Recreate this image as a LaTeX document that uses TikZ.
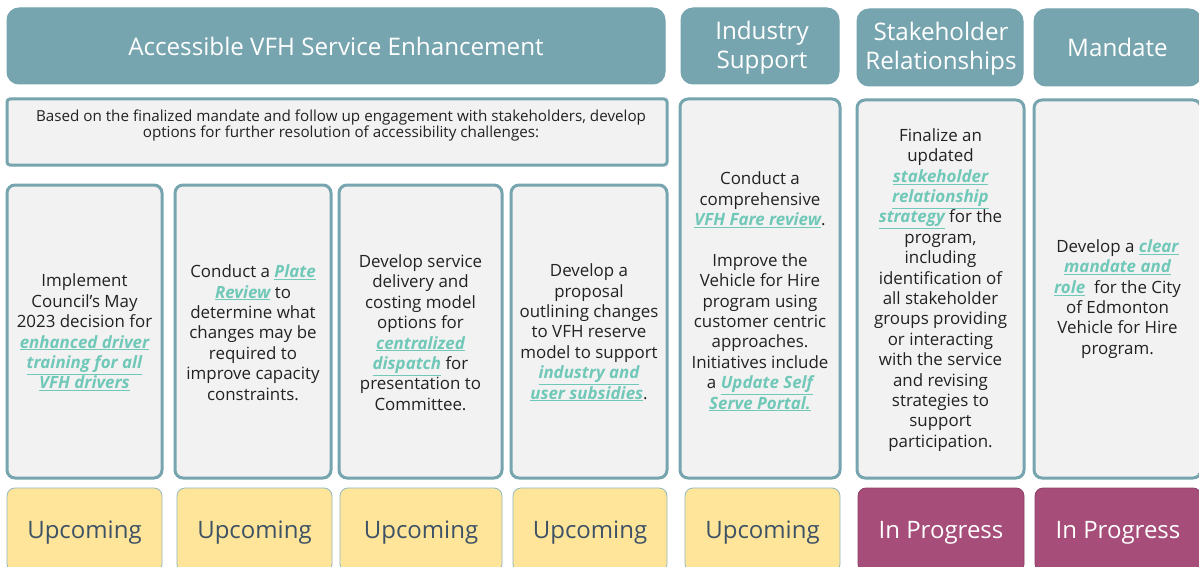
\documentclass[tikz,border=0pt]{standalone}
\usepackage{fontspec}
\setmainfont{Open Sans}
\definecolor{teal}{HTML}{76A5AF}
\definecolor{boxfill}{HTML}{F2F2F2}
\definecolor{linkc}{HTML}{70C8B8}
\definecolor{txt}{HTML}{222222}
\definecolor{upfill}{HTML}{FFE599}
\definecolor{uptxt}{HTML}{3E5266}
\definecolor{ipfill}{HTML}{A64D79}
\newcommand\lk[1]{{\color{linkc}\bfseries\itshape\underline{#1}}}
\tikzset{
  hdr/.style={draw=teal, line width=1pt, fill=teal, rounded corners=12pt, text=white,
    font=\fontsize{24.2}{29}\selectfont, align=center, inner sep=0pt},
  colbox/.style={draw=teal, line width=3pt, fill=boxfill, rounded corners=8pt, inner sep=0pt},
  desc/.style={draw=teal, line width=3pt, fill=boxfill, rounded corners=3pt, inner sep=0pt},
  body/.style={text=txt, font=\fontsize{16.9}{20.4}\selectfont, align=center, inner sep=0pt},
  small/.style={text=txt, font=\fontsize{15.2}{16.2}\selectfont, align=center, inner sep=0pt},
  upc/.style={draw=teal!80, line width=0.8pt, fill=upfill, rounded corners=8pt, text=uptxt,
    font=\fontsize{24}{28}\selectfont, inner sep=0pt},
  inp/.style={draw=ipfill!85!black, line width=0.8pt, fill=ipfill, rounded corners=8pt, text=white,
    font=\fontsize{24}{28}\selectfont, inner sep=0pt},
  stxt/.style={font=\fontsize{24}{28}\selectfont, inner sep=0pt}
}
\begin{document}
\begin{tikzpicture}[x=1pt,y=-1pt]
\useasboundingbox[fill=white] (0,0) rectangle (1199,567);
% headers
\node[hdr, minimum width=658, minimum height=76] (h1) at (336,46) {Accessible VFH Service Enhancement};
\node[hdr, minimum width=158, minimum height=76] (h2) at (760,46) {};
\node[hdr, draw=none, fill=none] (h2t) at (762,48) {Industry\\Support};
\node[hdr, minimum width=166, minimum height=77] (h3) at (940,47.5) {};
\node[hdr, draw=none, fill=none] (h3t) at (941,49) {Stakeholder\\Relationships};
\node[hdr, minimum width=167, minimum height=77] (h4) at (1117.5,47.5) {Mandate};
% description
\node[desc, minimum width=660, minimum height=66] (d) at (337,132) {};
\node[small] (dt) at (341,125.5) {Based on the finalized mandate and follow up engagement with stakeholders, develop\\options for further resolution of accessibility challenges:};
% column boxes
\node[colbox, minimum width=155, minimum height=293] (c1) at (84.5,331.5) {};
\node[colbox, minimum width=156, minimum height=293] (c2) at (253,331.5) {};
\node[colbox, minimum width=163, minimum height=293] (c3) at (420.5,331.5) {};
\node[colbox, minimum width=156, minimum height=293] (c4) at (589,331.5) {};
\node[colbox, minimum width=160, minimum height=379] (c5) at (760,288.5) {};
\node[colbox, minimum width=167, minimum height=378] (c6) at (940.5,289) {};
\node[colbox, minimum width=167, minimum height=378] (c7) at (1117.5,289) {};
% texts
\node[body] (t1) at ([yshift=-1pt]c1.center) {Implement\\Council’s May\\2023 decision for\\\lk{enhanced driver}\\\lk{training for all}\\\lk{VFH drivers}};
\node[body] (t2) at ([yshift=-1pt]c2.center) {Conduct a \lk{Plate}\\\lk{Review} to\\determine what\\changes may be\\required to\\improve capacity\\constraints.};
\node[body] (t3) at ([yshift=-1pt]c3.center) {Develop service\\delivery and\\costing model\\options for\\\lk{centralized}\\\lk{dispatch} for\\presentation to\\Committee.};
\node[body] (t4) at ([yshift=-1pt]c4.center) {Develop a\\proposal\\outlining changes\\to VFH reserve\\model to support\\\lk{industry and}\\\lk{user subsidies}.};
\node[body] (t5) at ([yshift=-3pt]c5.center) {Conduct a\\comprehensive\\\lk{VFH Fare review}.\\[20.4pt]Improve the\\Vehicle for Hire\\program using\\customer centric\\approaches.\\Initiatives include\\a \lk{Update Self}\\\lk{Serve Portal.}};
\node[body] (t6) at ([yshift=-1pt]c6.center) {Finalize an\\updated\\\lk{stakeholder}\\\lk{relationship}\\\lk{strategy} for the\\program,\\including\\identification of\\all stakeholder\\groups providing\\or interacting\\with the service\\and revising\\strategies to\\support\\participation.};
\node[body] (t7) at ([yshift=-10pt]c7.center) {Develop a \lk{clear}\\\lk{mandate and}\\\lk{role}\ \ for the City\\of Edmonton\\Vehicle for Hire\\program.};
% status
\node[upc, minimum width=155, minimum height=84] (s1) at (84.5,530) {};
\node[upc, minimum width=155, minimum height=84] (s2) at (254.5,530) {};
\node[upc, minimum width=162, minimum height=84] (s3) at (421,530) {};
\node[upc, minimum width=154, minimum height=84] (s4) at (590,530) {};
\node[upc, minimum width=155, minimum height=84] (s5) at (762.5,530) {};
\node[inp, minimum width=166, minimum height=84] (s6) at (941,530) {};
\node[inp, minimum width=166, minimum height=84] (s7) at (1118,530) {};
\foreach \s in {s1,s2,s3,s4,s5}
  \node[stxt, text=uptxt] (\s t) at ([yshift=-3pt]\s.center) {Upcoming};
\foreach \s in {s6,s7}
  \node[stxt, text=white] (\s t) at ([yshift=-3pt]\s.center) {In Progress};
\end{tikzpicture}
\end{document}
